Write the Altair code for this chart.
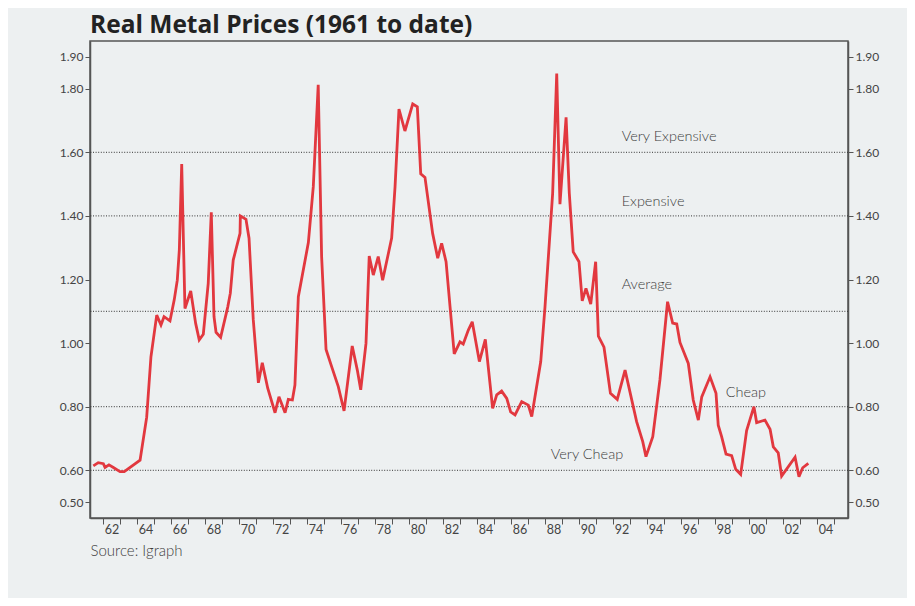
import altair as alt
import pandas as pd

# Real metal price index
years = [1961.43, 1961.72, 1962.02, 1962.12, 1962.35, 1962.61, 1963.00, 1963.25, 1964.18, 1964.57,
         1964.82, 1965.16, 1965.41, 1965.59, 1965.94, 1966.19, 1966.37, 1966.49, 1966.63, 1966.82,
         1967.16, 1967.45, 1967.66, 1967.90, 1968.19, 1968.37, 1968.53, 1968.65, 1968.92, 1969.34,
         1969.49, 1969.66, 1970.06, 1970.08, 1970.41, 1970.59, 1970.84, 1971.14, 1971.37, 1971.69,
         1972.12, 1972.35, 1972.71, 1972.90, 1973.14, 1973.29, 1973.49, 1974.08, 1974.37, 1974.66,
         1974.86, 1975.12, 1975.45, 1975.84, 1976.18, 1976.66, 1976.96, 1977.16, 1977.47, 1977.66,
         1977.90, 1978.19, 1978.45, 1978.98, 1979.18, 1979.41, 1979.76, 1980.22, 1980.49, 1980.69,
         1980.94, 1981.39, 1981.69, 1981.92, 1982.18, 1982.66, 1983.00, 1983.19, 1983.49, 1983.72,
         1984.14, 1984.49, 1984.92, 1985.16, 1985.45, 1985.75, 1985.98, 1986.24, 1986.63, 1987.02,
         1987.22, 1987.75, 1988.00, 1988.45, 1988.69, 1988.88, 1989.24, 1989.43, 1989.66, 1990.00,
         1990.19, 1990.41, 1990.69, 1990.98, 1991.14, 1991.47, 1991.85, 1992.25, 1992.71, 1993.39,
         1993.75, 1993.94, 1994.34, 1994.76, 1995.21, 1995.51, 1995.75, 1995.94, 1996.43, 1996.72,
         1997.02, 1997.22, 1997.71, 1998.06, 1998.19, 1998.39, 1998.65, 1998.98, 1999.22, 1999.51,
         1999.86, 2000.29, 2000.45, 2000.94, 2001.24, 2001.43, 2001.72, 2001.92, 2002.71, 2002.94,
         2003.16, 2003.49]
values = [0.614, 0.624, 0.621, 0.609, 0.617, 0.609, 0.596, 0.596, 0.632, 0.767,
          0.957, 1.088, 1.057, 1.083, 1.070, 1.136, 1.198, 1.293, 1.563, 1.109,
          1.164, 1.062, 1.010, 1.028, 1.188, 1.411, 1.083, 1.034, 1.018, 1.114,
          1.157, 1.261, 1.345, 1.400, 1.389, 1.330, 1.073, 0.875, 0.938, 0.858,
          0.781, 0.831, 0.781, 0.823, 0.821, 0.868, 1.146, 1.316, 1.492, 1.812,
          1.272, 0.980, 0.926, 0.863, 0.787, 0.991, 0.915, 0.853, 0.999, 1.274,
          1.214, 1.272, 1.198, 1.330, 1.492, 1.736, 1.667, 1.752, 1.743, 1.532,
          1.521, 1.345, 1.267, 1.314, 1.256, 0.966, 1.004, 0.997, 1.041, 1.067,
          0.942, 1.012, 0.795, 0.837, 0.849, 0.826, 0.784, 0.774, 0.816, 0.805,
          0.769, 0.942, 1.114, 1.471, 1.848, 1.437, 1.710, 1.471, 1.287, 1.256,
          1.133, 1.172, 1.123, 1.256, 1.022, 0.987, 0.842, 0.823, 0.915, 0.753,
          0.690, 0.643, 0.706, 0.884, 1.130, 1.063, 1.060, 1.002, 0.936, 0.821,
          0.758, 0.831, 0.894, 0.842, 0.742, 0.706, 0.651, 0.646, 0.603, 0.587,
          0.725, 0.800, 0.750, 0.758, 0.729, 0.674, 0.655, 0.582, 0.641, 0.580,
          0.608, 0.622]

levels = [0.60, 0.80, 1.10, 1.40, 1.60]
level_names = ["Very Cheap", "Cheap", "Average", "Expensive", "Very Expensive"]
label_x = [1988.34, 1998.63, 1992.51, 1992.51, 1992.51]
label_y = [0.635, 0.831, 1.170, 1.431, 1.636]
y_ticks = [0.5, 0.6, 0.8, 1.0, 1.2, 1.4, 1.6, 1.8, 1.9]
x_ticks = list(range(1962, 2006))

df = pd.DataFrame({"year": years, "value": values})
lv = pd.DataFrame({"level": levels})
ann = pd.DataFrame({"text": level_names, "x": label_x, "y": label_y})

xscale = alt.Scale(domain=[1961.235, 2005.824], nice=False, zero=False)
yscale = alt.Scale(domain=[0.45, 1.95], nice=False, zero=False)

FONT = "Lato"
AX = "#555555"

xaxis = alt.Axis(
    values=x_ticks, format="d",
    labelExpr="datum.value % 2 == 0 ? substring(datum.label, 2, 4) : ''",
    labelOffset=8.5, labelOverlap=False, labelFlush=False, labelBound=False,
    tickSize=6, labelPadding=-1, grid=False, orient="bottom", labelFontSize=12.5,
    title="Source: Igraph", titleAnchor="start", titleAlign="left",
    titleX=0, titleY=37, titleBaseline="alphabetic",
    titleFont=FONT, titleFontWeight=300, titleFontSize=15, titleColor="#3d3d3d",
)

left_axis = alt.Axis(values=y_ticks, format=".2f", orient="left", tickSize=5,
                     labelPadding=2, grid=False, title=None)
right_axis = alt.Axis(values=y_ticks, format=".2f", orient="right", tickSize=5,
                      labelPadding=2, grid=False, title=None)

rules = alt.Chart(lv).mark_rule(color="#333333", strokeWidth=1, strokeDash=[1, 1.6]).encode(
    y=alt.Y("level:Q", scale=yscale, axis=right_axis),
)

line = alt.Chart(df).mark_line(color="#e2383f", strokeWidth=2.8, strokeJoin="miter", strokeMiterLimit=3).encode(
    x=alt.X("year:Q", scale=xscale, axis=xaxis),
    y=alt.Y("value:Q", scale=yscale, axis=left_axis),
)

texts = alt.Chart(ann).mark_text(
    align="left", baseline="alphabetic", font=FONT, fontWeight=300, fontSize=14.5, color="#3d3d3d"
).encode(
    x=alt.X("x:Q", scale=xscale, axis=xaxis),
    y=alt.Y("y:Q", scale=yscale, axis=None),
    text="text:N",
)

chart = alt.layer(rules, line, texts).resolve_axis(y="independent").properties(
    width=758, height=477,
    autosize=alt.AutoSizeParams(type="none"),
    padding={"left": 82, "top": 33, "right": 59, "bottom": 80},
    background="#edf0f1",
    title=alt.TitleParams(
        "Real Metal Prices (1961 to date)", anchor="start", frame="group",
        font="Open Sans", fontSize=24.5, fontWeight="bold", color="#222222",
        baseline="alphabetic", offset=10, dy=26,
    ),
).configure_view(
    stroke=AX, strokeWidth=1.5
).configure_axis(
    labelFont=FONT, labelFontSize=12, labelColor="#444444",
    domainColor=AX, domainWidth=1.5, tickColor=AX, tickWidth=1,
)

chart.save("out.html", embed_options={"renderer": "svg", "actions": False})
